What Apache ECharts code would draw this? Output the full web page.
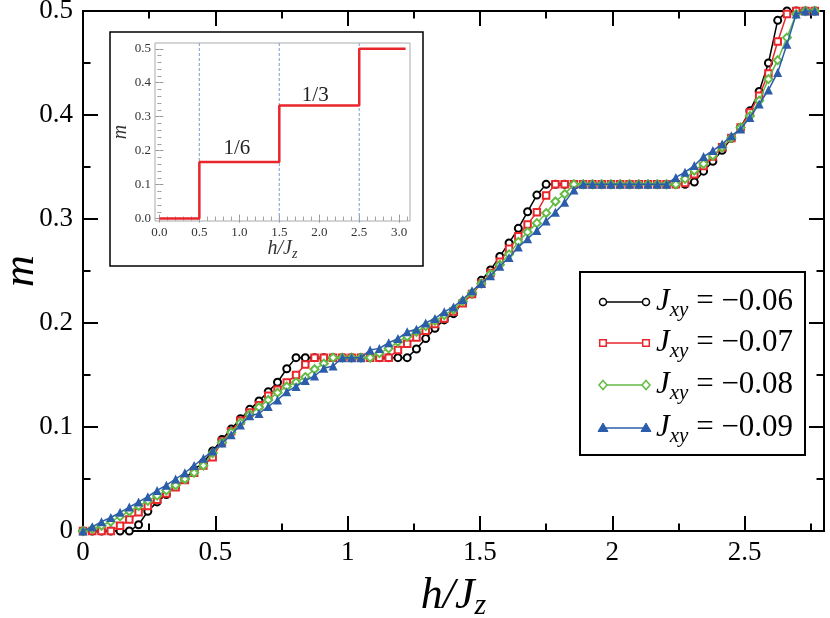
<!DOCTYPE html>
<html><head><meta charset="utf-8">
<script src="https://cdn.jsdelivr.net/npm/echarts@6/dist/echarts.min.js"></script>
<style>html,body{margin:0;padding:0;background:#fff}#c{width:830px;height:618px}</style>
</head><body><div id="c"></div>
<script>
// ---------- data ----------
const h = [0,0.035,0.07,0.105,0.14,0.175,0.21,0.245,0.28,0.315,0.35,0.385,0.42,0.455,0.49,0.525,0.56,0.595,0.63,0.665,0.7,0.735,0.77,0.805,0.84,0.875,0.91,0.945,0.98,1.015,1.05,1.085,1.12,1.155,1.19,1.225,1.26,1.295,1.33,1.365,1.4,1.435,1.47,1.505,1.54,1.575,1.61,1.645,1.68,1.715,1.75,1.785,1.82,1.855,1.89,1.925,1.96,1.995,2.03,2.065,2.1,2.135,2.17,2.205,2.24,2.275,2.31,2.345,2.38,2.415,2.45,2.485,2.52,2.555,2.59,2.625,2.66,2.695,2.73,2.765];
const m006 = [0,0,0,0,0,0,0.006,0.019,0.028,0.035,0.043,0.050,0.059,0.066,0.077,0.088,0.098,0.108,0.117,0.125,0.134,0.143,0.156,
  0.1667,0.1667,0.1667,0.1667,0.1667,0.1667,0.1667,0.1667,0.1667,0.1667,0.1667,0.1667,0.1667,
  0.175,0.185,0.195,0.203,0.209,0.220,0.228,0.241,0.251,0.264,0.277,0.291,0.307,0.323,
  0.3333,0.3333,0.3333,0.3333,0.3333,0.3333,0.3333,0.3333,0.3333,0.3333,0.3333,0.3333,0.3333,0.3333,0.3333,0.3333,
  0.3355,0.346,0.3555,0.366,0.3776,0.388,0.404,0.4226,0.450,0.491,0.5,0.5,0.5,0.5];
const m007 = [0,0,0,0,0.005,0.011,0.018,0.024,0.030,0.036,0.042,0.049,0.056,0.063,0.071,
  0.086,0.096,0.106,0.114,0.121,0.130,0.1357,0.1427,0.150,0.160,
  0.1667,0.1667,0.1667,0.1667,0.1667,0.1667,0.1667,0.1667,0.1667,
  0.174,0.180,0.186,0.1925,0.199,0.2044,0.211,0.219,0.228,0.238,0.248,0.259,0.2715,0.2833,0.2948,0.3066,0.3226,
  0.3333,0.3333,0.3333,0.3333,0.3333,0.3333,0.3333,0.3333,0.3333,0.3333,0.3333,0.3333,0.3333,0.3333,
  0.3345,0.343,0.351,0.360,0.369,0.378,0.388,0.4025,0.4185,0.440,0.4706,0.497,0.5,0.5,0.5];
const m008 = [0,0.002,0.005,0.009,0.014,0.019,0.024,0.029,0.034,0.039,0.044,0.050,0.056,0.063,0.075,
  0.085,0.095,0.104,0.112,0.119,0.126,0.133,0.139,0.143,0.148,0.1555,0.161,
  0.1667,0.1667,0.1667,0.1667,0.1667,
  0.171,0.1756,0.182,0.187,0.1916,0.197,0.202,0.2076,0.213,0.221,0.229,0.238,0.247,0.256,0.266,0.278,0.2874,0.296,0.3057,0.3168,0.324,
  0.3333,0.3333,0.3333,0.3333,0.3333,0.3333,0.3333,0.3333,0.3333,0.3333,0.3333,0.3333,
  0.3386,0.3466,0.353,0.361,0.369,0.378,0.388,0.399,0.4137,0.4345,0.4527,0.4744,0.497,0.5,0.5];
const m009 = [0,0.004,0.009,0.013,0.018,0.023,0.028,0.033,0.039,0.044,0.050,0.056,0.063,0.070,0.077,
  0.0845,0.0925,0.102,0.1107,0.113,0.1197,0.126,0.134,0.139,0.1446,0.149,0.1565,0.1587,
  0.1667,0.1667,0.1667,
  0.174,0.1756,0.181,0.185,0.1916,0.194,0.200,0.2044,0.2107,0.2155,0.2226,0.231,0.238,0.2455,0.2545,0.263,0.273,0.281,0.289,0.298,0.3066,0.316,0.328,
  0.3333,0.3333,0.3333,0.3333,0.3333,0.3333,0.3333,0.3333,0.3333,0.3333,
  0.340,0.345,0.3514,0.360,0.3658,0.372,0.380,0.3866,0.3977,0.4106,0.424,0.4409,0.468,0.497,0.5,0.5];
const seriesValues = [m006, m007, m008, m009];
const jxyLabels = ['\u22120.06', '\u22120.07', '\u22120.08', '\u22120.09'];

const xMajorTicks = [0, 0.5, 1, 1.5, 2, 2.5];
const xMinorTicks = [0.25, 0.75, 1.25, 1.75, 2.25, 2.75];

// inset (ideal staircase)
const insetH = [0, 0.5, 1.5, 2.5, 3.08];
const insetM = [0, 1/6, 1/3, 0.5, 0.5];
const insetTransitions = [0.5, 1.5, 2.5];
const insetYRange = [-0.007, 0.517];
const insetXRange = [-0.055, 3.135];
const insetXTicks = [0, 0.5, 1, 1.5, 2, 2.5, 3];
const insetXMinor = [0.1,0.2,0.3,0.4,0.6,0.7,0.8,0.9,1.1,1.2,1.3,1.4,1.6,1.7,1.8,1.9,2.1,2.2,2.3,2.4,2.6,2.7,2.8,2.9,3.1];
const insetYTicks = [0, 0.1, 0.2, 0.3, 0.4, 0.5];
const insetYMinor = [0.02,0.04,0.06,0.08,0.12,0.14,0.16,0.18,0.22,0.24,0.26,0.28,0.32,0.34,0.36,0.38,0.42,0.44,0.46,0.48];
const plateauNames = ['1/6', '1/3'];
const plateauPos = [[0.97, 0.207], [1.95, 0.363]];

// ---------- styles ----------
const colors = ['#000000', '#e8262b', '#63bb45', '#2c5daa'];
const symbols = ['emptyCircle', 'emptyRect', 'emptyDiamond', 'triangle'];
const symSizes = [7, 6.5, 8, 9];
const SERIF = 'Liberation Serif';

const chart = echarts.init(document.getElementById('c'));

function mainX(pos, ticks, isMajor, showLabel, extra) {
  return Object.assign({
    type: 'value', gridIndex: 0, min: 0, max: 2.8, position: pos,
    axisLine: { show: true, onZero: false, lineStyle: { color: '#000', width: 2 } },
    axisTick: { show: true, inside: true, length: isMajor ? 15 : 7.5, customValues: ticks, lineStyle: { color: '#000', width: 2 } },
    axisLabel: showLabel ? { show: true, customValues: ticks, fontFamily: SERIF, fontSize: 27, color: '#000', margin: 8 } : { show: false },
    splitLine: { show: false }
  }, extra || {});
}
function mainY(pos, showLabel, extra) {
  return Object.assign({
    type: 'value', gridIndex: 0, min: 0, max: 0.5, interval: 0.1, position: pos,
    axisLine: { show: true, onZero: false, lineStyle: { color: '#000', width: 2 } },
    axisTick: { show: true, inside: true, length: 15, lineStyle: { color: '#000', width: 2 } },
    minorTick: { show: true, splitNumber: 2, length: 7.5, lineStyle: { color: '#000', width: 2 } },
    axisLabel: showLabel ? { show: true, fontFamily: SERIF, fontSize: 27, color: '#000', margin: 10 } : { show: false },
    splitLine: { show: false }, minorSplitLine: { show: false }
  }, extra || {});
}
function insX(pos, ticks, isMajor, showLabel, extra) {
  return Object.assign({
    type: 'value', gridIndex: 1, min: insetXRange[0], max: insetXRange[1], position: pos, z: 10,
    axisLine: { show: false },
    axisTick: { show: true, inside: true, length: isMajor ? 4 : 2, customValues: ticks, lineStyle: { color: '#999', width: 1 } },
    axisLabel: showLabel ? { show: true, customValues: ticks, formatter: v => v.toFixed(1), fontFamily: SERIF, fontSize: 13, color: '#333', margin: 5 } : { show: false },
    splitLine: { show: false }
  }, extra || {});
}
function insY(pos, ticks, isMajor, showLabel, extra) {
  return Object.assign({
    type: 'value', gridIndex: 1, min: insetYRange[0], max: insetYRange[1], position: pos, z: 10,
    axisLine: { show: false },
    axisTick: { show: true, inside: true, length: isMajor ? 4 : 2, customValues: ticks, lineStyle: { color: '#999', width: 1 } },
    axisLabel: showLabel ? { show: true, customValues: ticks, formatter: v => v.toFixed(1), fontFamily: SERIF, fontSize: 13, color: '#333', margin: 4 } : { show: false },
    splitLine: { show: false }
  }, extra || {});
}

const xAxes = [
  mainX('bottom', xMajorTicks, true, true, {
    name: '{a|h/J}{b|z}', nameLocation: 'middle', nameGap: 40, nameMoveOverlap: false,
    nameTextStyle: { rich: {
      a: { fontFamily: SERIF, fontStyle: 'italic', fontSize: 44, color: '#000', lineHeight: 50 },
      b: { fontFamily: SERIF, fontStyle: 'italic', fontSize: 30, color: '#000', lineHeight: 30, verticalAlign: 'bottom' }
    } }
  }),
  mainX('bottom', xMinorTicks, false, false),
  mainX('top', xMajorTicks, true, false),
  mainX('top', xMinorTicks, false, false),
  insX('bottom', insetXTicks, true, true, {
    name: '{a|h/J}{b|z}', nameLocation: 'middle', nameGap: 16, nameMoveOverlap: false,
    nameTextStyle: { rich: {
      a: { fontFamily: SERIF, fontStyle: 'italic', fontSize: 20, color: '#333', lineHeight: 24 },
      b: { fontFamily: SERIF, fontStyle: 'italic', fontSize: 14, color: '#333', lineHeight: 14, verticalAlign: 'bottom' }
    } }
  }),
  insX('bottom', insetXMinor, false, false),
  insX('top', insetXTicks, true, false),
  insX('top', insetXMinor, false, false)
];
const yAxes = [
  mainY('left', true, {
    name: 'm', nameLocation: 'middle', nameGap: 40, nameRotate: 90, nameMoveOverlap: false,
    nameTextStyle: { fontFamily: SERIF, fontStyle: 'italic', fontSize: 44, color: '#000' }
  }),
  mainY('right', false),
  insY('left', insetYTicks, true, true, {
    name: 'm', nameLocation: 'middle', nameGap: 24, nameRotate: 90, nameMoveOverlap: false,
    nameTextStyle: { fontFamily: SERIF, fontStyle: 'italic', fontSize: 20, color: '#333' }
  }),
  insY('left', insetYMinor, false, false),
  insY('right', insetYTicks, true, false),
  insY('right', insetYMinor, false, false)
];

const series = seriesValues.map((vals, i) => ({
  type: 'line', name: 'Jxy = ' + jxyLabels[i], xAxisIndex: 0, yAxisIndex: 0,
  data: h.map((x, k) => [x, vals[k]]),
  symbol: symbols[i], symbolSize: symSizes[i], showAllSymbol: true,
  itemStyle: { color: colors[i], borderWidth: 1.5 },
  lineStyle: { color: colors[i], width: 1.5 },
  z: 2 + i, animation: false
}));
// dashed guides at the transition fields in the inset
insetTransitions.forEach(v => {
  series.push({
    type: 'line', xAxisIndex: 4, yAxisIndex: 2, silent: true,
    data: [[v, insetYRange[0]], [v, insetYRange[1]]],
    symbol: 'none', lineStyle: { type: [3, 2], color: '#8fabdc', width: 1.2 }, z: 11, animation: false
  });
});
series.push({
  type: 'line', xAxisIndex: 4, yAxisIndex: 2, step: 'end',
  data: insetH.map((x, k) => [x, insetM[k]]),
  symbol: 'none', lineStyle: { color: '#e8262b', width: 2.5 }, z: 12, animation: false,
  markPoint: {
    silent: true, symbol: 'circle', symbolSize: 0, animation: false,
    label: { show: true, position: 'inside', formatter: '{b}', fontFamily: SERIF, fontSize: 21, color: '#222' },
    data: plateauNames.map((n, k) => ({ name: n, coord: plateauPos[k] }))
  }
});

// legend drawn as graphic (markers at both ends, as in the reference)
const legendRowY = [302, 343, 385, 428];
const legendEls = [{
  type: 'rect', shape: { x: 580, y: 272, width: 225, height: 183 },
  style: { fill: '#fff', stroke: '#000', lineWidth: 2 }, z: 20
}];
function legendSymbol(i, cx, cy) {
  const c = colors[i];
  if (i === 0) return { type: 'circle', shape: { cx, cy, r: 3.5 }, style: { fill: '#fff', stroke: c, lineWidth: 1.5 }, z: 22 };
  if (i === 1) return { type: 'rect', shape: { x: cx - 3.3, y: cy - 3.3, width: 6.6, height: 6.6 }, style: { fill: '#fff', stroke: c, lineWidth: 1.5 }, z: 22 };
  if (i === 2) return { type: 'polygon', shape: { points: [[cx, cy - 4.5], [cx + 4, cy], [cx, cy + 4.5], [cx - 4, cy]] }, style: { fill: '#fff', stroke: c, lineWidth: 1.5 }, z: 22 };
  return { type: 'polygon', shape: { points: [[cx, cy - 5], [cx + 5, cy + 3.5], [cx - 5, cy + 3.5]] }, style: { fill: c, stroke: c, lineWidth: 1 }, z: 22 };
}
legendRowY.forEach((y, i) => {
  legendEls.push({ type: 'line', shape: { x1: 603, y1: y, x2: 646, y2: y }, style: { stroke: colors[i], lineWidth: 1.5 }, z: 21 });
  legendEls.push(legendSymbol(i, 603, y));
  legendEls.push(legendSymbol(i, 646, y));
  legendEls.push({
    type: 'text', x: 656, y: y, z: 22,
    style: {
      text: '{j|J}{s|xy}{t| = ' + jxyLabels[i] + '}',
      verticalAlign: 'middle', align: 'left',
      rich: {
        j: { fontFamily: SERIF, fontStyle: 'italic', fontSize: 31, fill: '#000', lineHeight: 38 },
        s: { fontFamily: SERIF, fontStyle: 'italic', fontSize: 21, fill: '#000', lineHeight: 21, verticalAlign: 'bottom' },
        t: { fontFamily: SERIF, fontSize: 31, fill: '#000', lineHeight: 38 }
      }
    }
  });
});

chart.setOption({
  animation: false,
  backgroundColor: '#fff',
  grid: [
    { left: 83, right: 6, top: 11, bottom: 87, containLabel: false, outerBoundsMode: 'none' },
    { left: 155, top: 43, width: 255, height: 178, show: true, borderColor: '#aaaaaa', borderWidth: 1, backgroundColor: 'transparent', z: 10, containLabel: false, outerBoundsMode: 'none' }
  ],
  xAxis: xAxes,
  yAxis: yAxes,
  series: series,
  graphic: [
    { type: 'rect', shape: { x: 110, y: 32, width: 313, height: 234 }, style: { fill: '#fff', stroke: '#000', lineWidth: 1.5 }, z: 5 },
    { type: 'group', children: legendEls, z: 20 }
  ]
});
</script>
</body></html>
